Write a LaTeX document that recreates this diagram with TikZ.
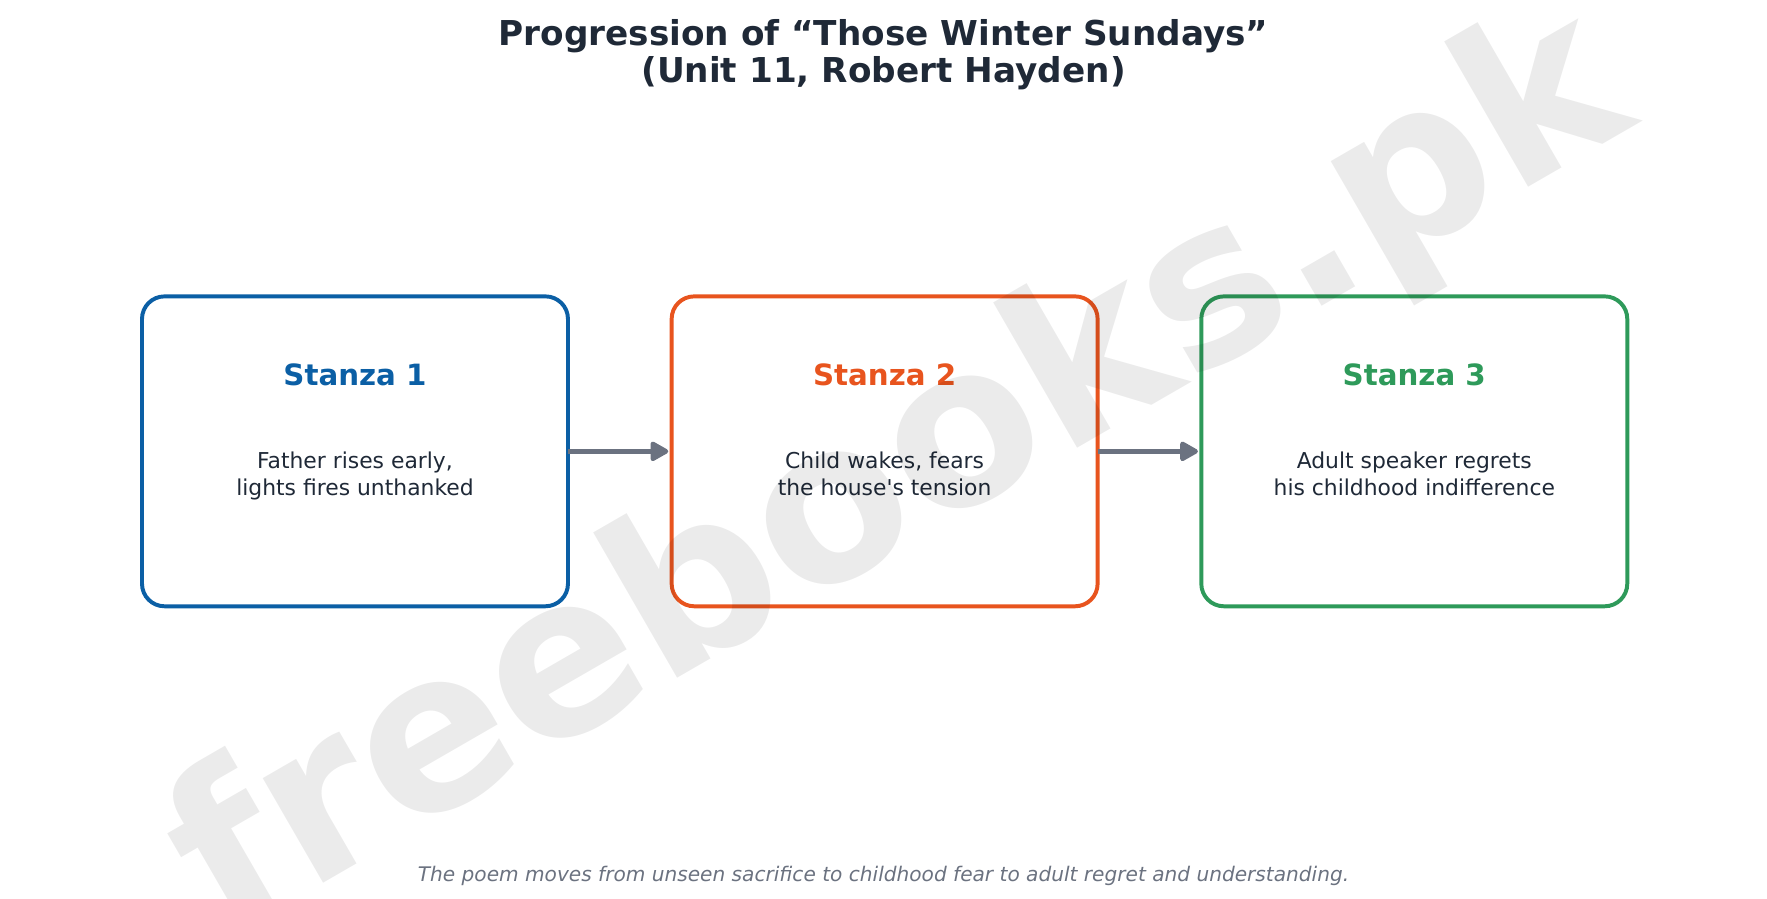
\documentclass[tikz,border=0pt]{standalone}
\usepackage{fontspec}
\setmainfont{DejaVu Sans}
\usepackage{xcolor}
\usetikzlibrary{arrows.meta, positioning}
\definecolor{inkdark}{HTML}{1F2937}
\definecolor{mutedgray}{HTML}{6B7280}
\definecolor{stanzablue}{HTML}{0B5FA5}
\definecolor{stanzaorange}{HTML}{E8541E}
\definecolor{stanzagreen}{HTML}{2E9A5A}

\begin{document}
\begin{tikzpicture}[
    x=1pt, y=1pt,
    node distance=92pt,
    stanzabox/.style={draw, line width=3.5pt, rounded corners=20pt, fill=white, outer sep=0pt, minimum width=378pt, minimum height=275pt},
    stanzahead/.style={font=\fontsize{26}{30}\selectfont\bfseries, anchor=center},
    stanzabody/.style={font=\fontsize{19.4}{24}\selectfont, text=inkdark, align=center, anchor=center},
    arrow/.style={-{Triangle[length=18pt, width=19pt, round]}, line width=4pt, mutedgray, shorten >=3pt}
]
    \useasboundingbox (0,0) rectangle (1568,-797.7);

    % title
    \node[font=\fontsize{30.4}{33}\selectfont\bfseries, text=inkdark, align=center] (title) at (784,-48.5)
        {Progression of “Those Winter Sundays”\\(Unit 11, Robert Hayden)};

    % the three stanzas
    \node[stanzabox, draw=stanzablue] (stanza1) at (315,-400.5) {};
    \node[stanzabox, draw=stanzaorange, right=of stanza1] (stanza2) {};
    \node[stanzabox, draw=stanzagreen, right=of stanza2] (stanza3) {};

    \node[stanzahead, text=stanzablue] (head1) at ([yshift=-70pt]stanza1.north) {Stanza 1};
    \node[stanzahead, text=stanzaorange] (head2) at ([yshift=-70pt]stanza2.north) {Stanza 2};
    \node[stanzahead, text=stanzagreen] (head3) at ([yshift=-70pt]stanza3.north) {Stanza 3};

    \node[stanzabody] (body1) at ([yshift=-22pt]stanza1.center) {\strut Father rises early,\\\strut lights fires unthanked};
    \node[stanzabody] (body2) at ([yshift=-22pt]stanza2.center) {\strut Child wakes, fears\\\strut the house\textquotesingle s tension};
    \node[stanzabody] (body3) at ([yshift=-22pt]stanza3.center) {\strut Adult speaker regrets\\\strut his childhood indifference};

    \draw[arrow] (stanza1) -- (stanza2);
    \draw[arrow] (stanza2) -- (stanza3);

    % footer
    \node[font=\fontsize{17.85}{20}\selectfont\itshape, text=mutedgray] (footer) at (784,-777)
        {The poem moves from unseen sacrifice to childhood fear to adult regret and understanding.};

    % watermark
    \node[font=\fontsize{196}{196}\selectfont\bfseries, text=black, text opacity=0.08, rotate=30] (mark) at (800,-425) {freebooks.pk};
\end{tikzpicture}
\end{document}
